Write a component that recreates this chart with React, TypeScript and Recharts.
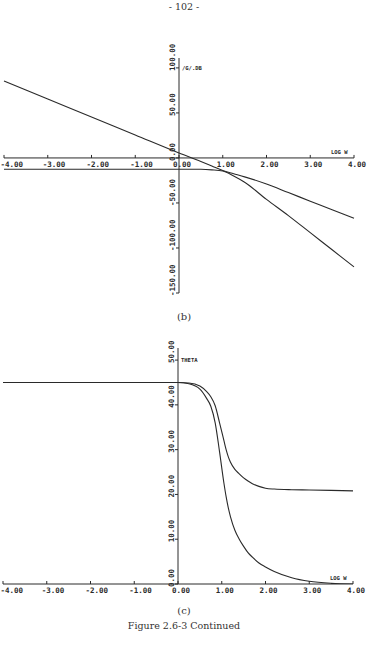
import React from "react"
import { LineChart, Line, XAxis, YAxis, ReferenceLine, ReferenceDot } from "recharts"

// log frequency grid and curves, panel (b) gain in dB
const bLogW = [-4, -3, -2, -1, 0, 0.5, 0.75, 1, 1.25, 1.5, 2, 2.5, 3, 3.5, 4]
const bGainA = [85.5, 65.5, 45.5, 25.5, 5.5, -4, -9, -14, -17.5, -21, -29, -38.5, -48, -57.5, -67]
const bGainB = [-12.5, -12.5, -12.5, -12.5, -12.5, -12.6, -13.2, -14.5, -20, -27, -46, -64, -83, -102, -121]

// panel (c) theta
const cLogW = [-4, -3, -2, -1, 0, 0.25, 0.5, 0.65, 0.75, 0.85, 0.95, 1.05, 1.1, 1.15, 1.2, 1.3, 1.4, 1.5, 1.6, 1.7, 1.85, 2.0, 2.2, 2.6, 3, 3.5, 4]
const cThetaA = [45, 45, 45, 45, 45, 44.7, 43.5, 41.5, 39.7, 36, 29.5, 22.5, 19.5, 17, 15, 12, 10, 8.4, 7, 6, 4.7, 3.8, 2.8, 1.4, 0.6, 0.15, 0]
const cThetaB = [45, 45, 45, 45, 45, 44.9, 44.2, 43, 41.8, 39.8, 36, 32, 30, 28.4, 27.2, 25.6, 24.6, 23.7, 23, 22.4, 21.8, 21.4, 21.2, 21.05, 21, 20.9, 20.8]

const xTicks = [-4, -3, -2, -1, 0, 1, 2, 3, 4]
const xTickLabels = ["-4.00", "-3.00", "-2.00", "-1.00", "0.00", "1.00", "2.00", "3.00", "4.00"]
const bYTicks = [100, 50, 0, -50, -100, -150]
const bYTickLabels = ["100.00", "50.00", "0.00", "-50.00", "-100.00", "-150.00"]
const cYTicks = [50, 40, 30, 20, 10, 0]
const cYTickLabels = ["50.00", "40.00", "30.00", "20.00", "10.00", "0.00"]

const bData = bLogW.map((x, i) => ({ x, a: bGainA[i], b: bGainB[i] }))
const cData = cLogW.map((x, i) => ({ x, a: cThetaA[i], b: cThetaB[i] }))

const ink = "#2a2a2a"
const mono = "'DejaVu Sans Mono', monospace"

function XTick({ cx, cy, label, neg }: any) {
  return (
    <g>
      <line x1={cx} y1={cy} x2={cx} y2={cy - 3} stroke={ink} strokeWidth={1} />
      <text x={Math.max(0.5, cx - (neg ? 5 : 6))} y={cy + 9} fontSize={7.5} fontWeight="bold" fontFamily={mono} fill={ink}>
        {label}
      </text>
    </g>
  )
}

function YTick({ cx, cy, label }: any) {
  return (
    <g>
      <line x1={cx - 3} y1={cy} x2={cx} y2={cy} stroke={ink} strokeWidth={1} />
      <text
        x={cx - 4}
        y={cy + 3}
        transform={`rotate(-90 ${cx - 4} ${cy + 3})`}
        fontSize={7.5}
        fontWeight="bold"
        fontFamily={mono}
        fill={ink}
      >
        {label}
      </text>
    </g>
  )
}

function AxisName({ cx, cy, text, dx, dy }: any) {
  return (
    <text x={cx + dx} y={cy + dy} fontSize={5.5} fontWeight="bold" fontFamily={mono} fill={ink}>
      {text}
    </text>
  )
}

function Panel({ data, yDomain, yTicks, yLabels, yName, yNameAt, width, height, margin }: any) {
  return (
    <LineChart width={width} height={height} data={data} margin={margin}>
      <XAxis type="number" dataKey="x" domain={[-4, 4]} hide />
      <YAxis type="number" domain={yDomain} hide allowDataOverflow />
      <ReferenceLine y={0} stroke={ink} strokeWidth={1} />
      <ReferenceLine x={0} stroke={ink} strokeWidth={1} />
      {xTicks.map((t, i) => (
        <ReferenceDot
          key={"x" + t}
          x={t}
          y={0}
          r={0}
          shape={(p: any) => <XTick cx={p.cx} cy={p.cy} label={xTickLabels[i]} neg={t < 0} />}
        />
      ))}
      {yTicks.map((t: number, i: number) => (
        <ReferenceDot
          key={"y" + t}
          x={0}
          y={t}
          r={0}
          shape={(p: any) => <YTick cx={p.cx} cy={p.cy} label={yLabels[i]} />}
        />
      ))}
      <ReferenceDot x={0} y={yNameAt} r={0} shape={(p: any) => <AxisName cx={p.cx} cy={p.cy} text={yName} dx={3} dy={2} />} />
      <ReferenceDot x={4} y={0} r={0} shape={(p: any) => <AxisName cx={p.cx} cy={p.cy} text="LOG W" dx={-23} dy={-4} />} />
      <Line type="monotone" dataKey="a" stroke={ink} strokeWidth={1.1} dot={false} isAnimationActive={false} />
      <Line type="monotone" dataKey="b" stroke={ink} strokeWidth={1.1} dot={false} isAnimationActive={false} />
    </LineChart>
  )
}

const serif = "'DejaVu Serif', serif"

export default function App() {
  return (
    <div style={{ position: "absolute", left: 0, top: 0, width: 368, height: 645, background: "#fff", overflow: "hidden" }}>
      <div style={{ position: "absolute", top: 1, width: 368, textAlign: "center", fontFamily: serif, fontSize: 9.5, color: "#333" }}>
        - 102 -
      </div>
      <div style={{ position: "absolute", left: 0, top: 0 }}>
        <Panel
          data={bData}
          yDomain={[-150, 111]}
          yTicks={bYTicks}
          yLabels={bYTickLabels}
          yName="/G/.DB"
          yNameAt={100}
          width={368}
          height={300}
          margin={{ top: 58, bottom: 7, left: 4, right: 14 }}
        />
      </div>
      <div style={{ position: "absolute", top: 311, width: 368, textAlign: "center", fontFamily: serif, fontSize: 10, color: "#333" }}>
        (b)
      </div>
      <div style={{ position: "absolute", left: 0, top: 330 }}>
        <Panel
          data={cData}
          yDomain={[0, 52.7]}
          yTicks={cYTicks}
          yLabels={cYTickLabels}
          yName="THETA"
          yNameAt={50}
          width={368}
          height={270}
          margin={{ top: 18, bottom: 16, left: 3, right: 15 }}
        />
      </div>
      <div style={{ position: "absolute", top: 605, width: 368, textAlign: "center", fontFamily: serif, fontSize: 10, color: "#333" }}>
        (c)
      </div>
      <div style={{ position: "absolute", top: 620, width: 368, textAlign: "center", fontFamily: serif, fontSize: 9.5, color: "#333" }}>
        Figure 2.6-3 Continued
      </div>
    </div>
  )
}
